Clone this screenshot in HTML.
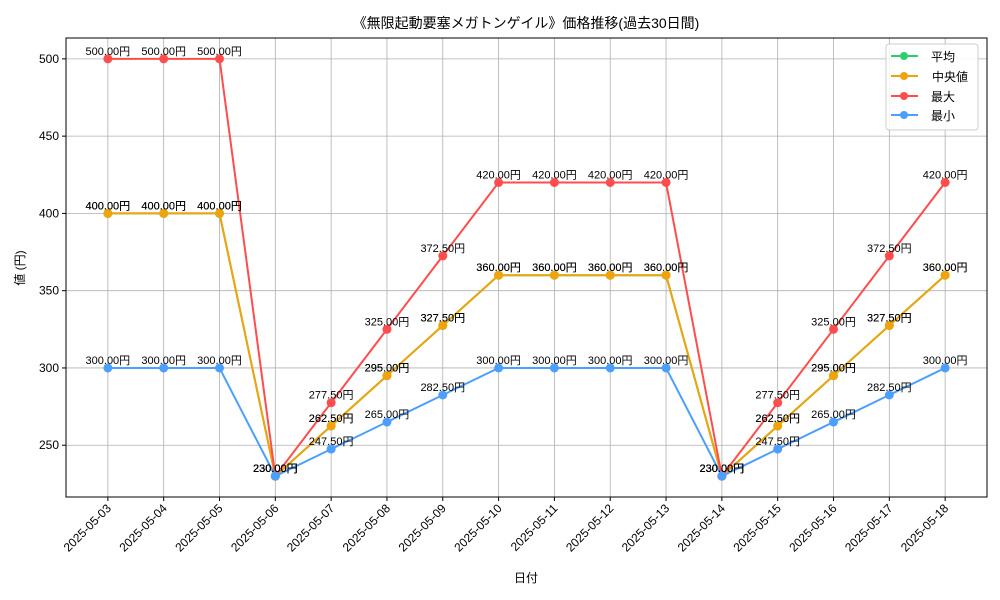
<!DOCTYPE html>
<html><head><meta charset="utf-8"><style>
body{margin:0;background:#fff;}
svg{display:block;font-family:"Liberation Sans","Noto Sans CJK JP",sans-serif;}
</style></head><body>
<svg id="chart" width="1000" height="600">
<text x="526" y="28" text-anchor="middle" font-size="14">《無限起動要塞メガトンゲイル》価格推移(過去30日間)</text>
<g id="grid"></g>
<rect x="66" y="38" width="921" height="459" fill="none" stroke="#000" stroke-width="1"/>
<g id="series"></g><g id="labels"></g><g id="axes"></g>
<text x="526" y="582" text-anchor="middle" font-size="12">日付</text>
<text transform="translate(24,268) rotate(-90)" text-anchor="middle" font-size="12">値 (円)</text>
<g>
<rect x="886" y="44" width="92" height="86" rx="3" fill="#fff" fill-opacity="0.85" stroke="#ccc"/>
<g><line x1="891" x2="918" y1="56" y2="56" stroke="#2ecc71" stroke-width="2"/><circle cx="904" cy="56" r="4" fill="#2ecc71"/><text x="931" y="61" font-size="12">平均</text></g>
<g><line x1="891" x2="918" y1="76" y2="76" stroke="#f0a30a" stroke-width="2"/><circle cx="904" cy="76" r="4" fill="#f0a30a"/><text x="932" y="81" font-size="12">中央値</text></g>
<g><line x1="891" x2="918" y1="96" y2="96" stroke="#ff4d4d" stroke-width="2"/><circle cx="904" cy="96" r="4" fill="#ff4d4d"/><text x="931" y="101" font-size="12">最大</text></g>
<g><line x1="891" x2="918" y1="115" y2="115" stroke="#4d9fff" stroke-width="2"/><circle cx="904" cy="115" r="4" fill="#4d9fff"/><text x="931" y="120" font-size="12">最小</text></g>
</g>
</svg>
<script>
const categories=["2025-05-03","2025-05-04","2025-05-05","2025-05-06","2025-05-07","2025-05-08","2025-05-09","2025-05-10","2025-05-11","2025-05-12","2025-05-13","2025-05-14","2025-05-15","2025-05-16","2025-05-17","2025-05-18"];
const maxValues=[500,500,500,230,277.5,325,372.5,420,420,420,420,230,277.5,325,372.5,420];
const medianValues=[400,400,400,230,262.5,295,327.5,360,360,360,360,230,262.5,295,327.5,360];
const meanValues=[400,400,400,230,262.5,295,327.5,360,360,360,360,230,262.5,295,327.5,360];
const minValues=[300,300,300,230,247.5,265,282.5,300,300,300,300,230,247.5,265,282.5,300];
const yTicks=[250,300,350,400,450,500];
const NS="http://www.w3.org/2000/svg";
const allVals=[...maxValues,...medianValues,...meanValues,...minValues];
const vMin=Math.min(...allVals),vMax=Math.max(...allVals),vPad=(vMax-vMin)*0.05;
const yLo=vMin-vPad,yHi=vMax+vPad,TOP=38,BOT=497,LEFT=66,RIGHT=987;
const yScale=v=>BOT-(v-yLo)/(yHi-yLo)*(BOT-TOP);
const xPad=0.05*(categories.length-1);
const xScale=i=>LEFT+(i+xPad)/(categories.length-1+2*xPad)*(RIGHT-LEFT);
function mk(tag,attrs,parent,txt){const e=document.createElementNS(NS,tag);for(const k in attrs)e.setAttribute(k,attrs[k]);if(txt!==undefined)e.textContent=txt;document.getElementById(parent).appendChild(e);return e;}
yTicks.forEach(t=>{
 const g=mk('line',{x1:LEFT,x2:RIGHT,y1:yScale(t),y2:yScale(t),stroke:'#b0b0b0','stroke-width':0.8},'grid');
 
 
 mk('line',{x1:LEFT-4,x2:LEFT,y1:yScale(t),y2:yScale(t),stroke:'#000'},'axes');
 const l=mk('text',{x:LEFT-7,y:yScale(t)+4,'text-anchor':'end','font-size':12},'axes',String(t));
 
 
});
categories.forEach((c,i)=>{
 const g=mk('line',{x1:xScale(i),x2:xScale(i),y1:TOP,y2:BOT,stroke:'#b0b0b0','stroke-width':0.8},'grid');
 
 
 mk('line',{x1:xScale(i),x2:xScale(i),y1:BOT,y2:BOT+4,stroke:'#000'},'axes');
 const l=mk('text',{x:0,y:0,'text-anchor':'end','font-size':12,transform:`translate(${xScale(i)+4},${BOT+12}) rotate(-45)`},'axes',c);
 
 
});
const seriesList=[["mean",meanValues,"#2ecc71"],["median",medianValues,"#f0a30a"],["max",maxValues,"#ff4d4d"],["min",minValues,"#4d9fff"]];
seriesList.forEach(([n,vals,col])=>{
 const p=mk('polyline',{points:vals.map((v,i)=>xScale(i)+','+yScale(v)).join(' '),fill:'none',stroke:col,'stroke-width':2},'series');
 
 
 vals.forEach((v,i)=>{
  const c=mk('circle',{cx:xScale(i),cy:yScale(v),r:4.5,fill:col},'series');
  
  
  const t=mk('text',{x:xScale(i),y:yScale(v)-4,'text-anchor':'middle','font-size':11},'labels',v.toFixed(2)+'円');
  
  
 });
});
</script>
</body></html>
